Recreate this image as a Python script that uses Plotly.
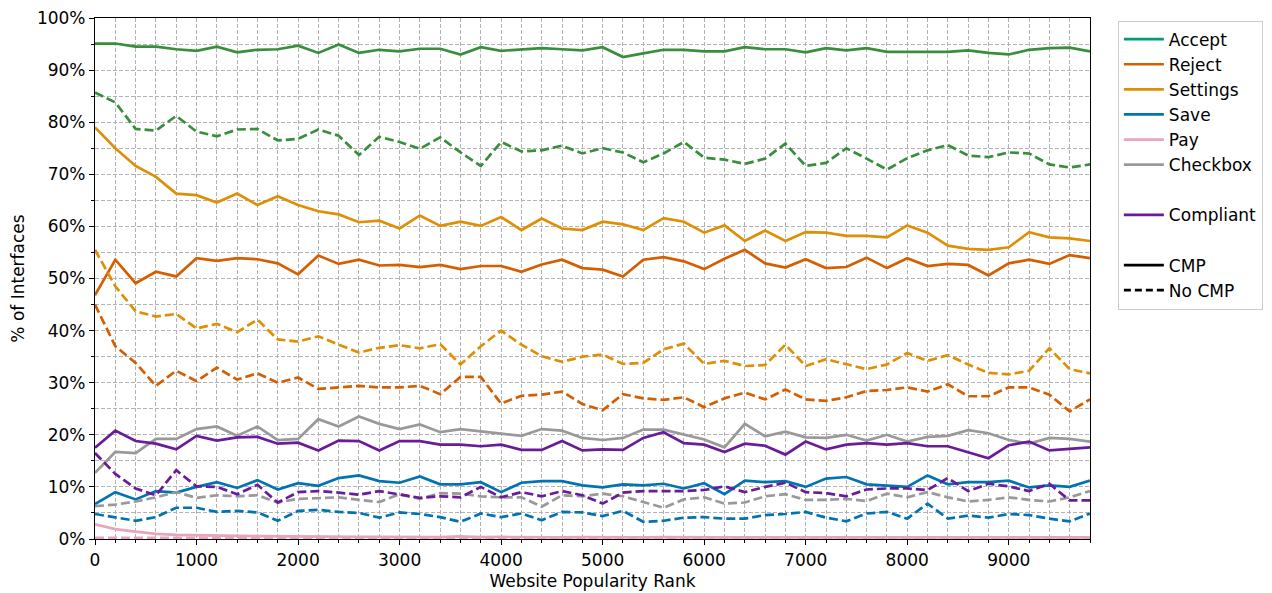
import plotly.graph_objects as go

ranks = [0, 200, 400, 600, 800, 1000, 1200, 1400, 1600, 1800,
         2000, 2200, 2400, 2600, 2800, 3000, 3200, 3400, 3600, 3800,
         4000, 4200, 4400, 4600, 4800, 5000, 5200, 5400, 5600, 5800,
         6000, 6200, 6400, 6600, 6800, 7000, 7200, 7400, 7600, 7800,
         8000, 8200, 8400, 8600, 8800, 9000, 9200, 9400, 9600, 9800]

accept_cmp = [95.1, 95.1, 94.5, 94.5, 94.0, 93.7, 94.5, 93.4, 93.9, 94.0,
              94.7, 93.3, 94.9, 93.3, 93.9, 93.6, 94.1, 94.1, 93.0, 94.4,
              93.7, 94.0, 94.2, 94.0, 93.8, 94.4, 92.5, 93.2, 93.9, 93.9,
              93.6, 93.6, 94.4, 94.0, 94.0, 93.4, 94.2, 93.8, 94.2, 93.5,
              93.5, 93.6, 93.5, 93.8, 93.3, 93.0, 93.9, 94.2, 94.3, 93.6]
accept_nocmp = [85.7, 83.8, 78.7, 78.4, 81.2, 78.2, 77.3, 78.6, 78.7, 76.5,
                76.8, 78.6, 77.4, 73.7, 77.2, 76.2, 74.9, 77.1, 74.2, 71.6,
                76.2, 74.4, 74.6, 75.5, 74.0, 75.0, 74.2, 72.3, 74.0, 76.2,
                73.2, 72.8, 72.0, 73.0, 75.9, 71.6, 72.2, 75.0, 73.0, 70.9,
                73.1, 74.6, 75.6, 73.6, 73.3, 74.2, 74.0, 71.9, 71.3, 71.9]
reject_cmp = [46.8, 53.6, 49.1, 51.3, 50.4, 53.9, 53.4, 53.9, 53.7, 52.9,
              50.8, 54.4, 52.8, 53.6, 52.5, 52.6, 52.2, 52.6, 51.8, 52.4,
              52.4, 51.3, 52.7, 53.6, 52.0, 51.7, 50.4, 53.6, 54.1, 53.3,
              51.8, 53.8, 55.5, 52.9, 52.1, 53.7, 52.0, 52.2, 54.0, 52.0,
              53.9, 52.4, 52.8, 52.6, 50.6, 52.9, 53.6, 52.8, 54.5, 53.9]
reject_nocmp = [45.0, 37.0, 33.8, 29.4, 32.3, 30.3, 32.9, 30.6, 31.8, 30.0,
                31.0, 28.8, 29.1, 29.4, 29.1, 29.1, 29.4, 27.8, 31.1, 31.1,
                26.0, 27.5, 27.7, 28.3, 25.9, 24.7, 27.8, 27.0, 26.7, 27.2,
                25.3, 27.0, 28.1, 26.8, 28.7, 26.8, 26.5, 27.2, 28.4, 28.6,
                29.1, 28.3, 29.7, 27.4, 27.4, 29.1, 29.1, 27.7, 24.5, 26.8]
settings_cmp = [79.0, 75.0, 71.6, 69.5, 66.3, 66.0, 64.6, 66.3, 64.1, 65.8,
                64.1, 62.9, 62.3, 60.8, 61.1, 59.6, 62.1, 60.1, 60.9, 60.1,
                61.8, 59.3, 61.5, 59.6, 59.3, 60.9, 60.4, 59.3, 61.6, 60.9,
                58.8, 60.2, 57.2, 59.2, 57.2, 58.9, 58.8, 58.2, 58.2, 57.9,
                60.2, 58.8, 56.3, 55.7, 55.5, 56.0, 58.9, 57.9, 57.7, 57.2]
settings_nocmp = [55.5, 48.5, 43.7, 42.7, 43.2, 40.4, 41.3, 39.7, 42.1, 38.3,
                  37.9, 38.9, 37.3, 35.8, 36.7, 37.2, 36.6, 37.4, 33.5, 37.0,
                  40.0, 37.3, 35.1, 34.0, 35.0, 35.4, 33.6, 33.8, 36.4, 37.5,
                  33.6, 34.2, 33.2, 33.4, 37.3, 33.2, 34.5, 33.5, 32.6, 33.5,
                  35.7, 34.2, 35.3, 33.5, 31.9, 31.6, 32.3, 36.6, 32.6, 31.8]
save_cmp = [6.7, 9.0, 7.6, 9.2, 8.9, 10.0, 10.9, 9.8, 11.3, 9.5,
            10.7, 10.2, 11.7, 12.2, 11.1, 10.8, 12.0, 10.5, 10.5, 10.9,
            9.0, 10.8, 11.1, 11.1, 10.3, 9.9, 10.5, 10.3, 10.6, 9.7,
            10.7, 8.6, 11.2, 10.9, 11.1, 10.0, 11.6, 11.9, 10.5, 10.2,
            10.0, 12.2, 10.5, 10.9, 10.9, 11.2, 9.9, 10.3, 10.0, 11.2]
save_nocmp = [4.8, 4.1, 3.5, 4.2, 6.0, 6.0, 5.2, 5.4, 5.1, 3.5,
              5.4, 5.6, 5.2, 5.0, 4.1, 5.1, 4.8, 4.2, 3.3, 4.9,
              4.2, 4.9, 3.6, 5.2, 5.1, 4.4, 5.4, 3.3, 3.5, 4.1,
              4.2, 3.9, 3.9, 4.6, 4.8, 5.2, 4.1, 3.4, 4.9, 5.2,
              3.9, 6.8, 3.9, 4.5, 4.1, 4.8, 4.6, 3.9, 3.4, 4.9]
pay_cmp = [2.8, 1.9, 1.4, 1.0, 0.8, 0.7, 0.65, 0.6, 0.55, 0.5,
           0.5, 0.45, 0.45, 0.4, 0.4, 0.4, 0.4, 0.35, 0.5, 0.35,
           0.4, 0.35, 0.35, 0.3, 0.35, 0.3, 0.3, 0.3, 0.35, 0.3,
           0.3, 0.3, 0.3, 0.3, 0.3, 0.3, 0.3, 0.3, 0.3, 0.3,
           0.3, 0.3, 0.3, 0.3, 0.3, 0.3, 0.3, 0.3, 0.3, 0.3]
pay_nocmp = [0.2, 0.2, 0.2, 0.2, 0.2, 0.2, 0.2, 0.2, 0.2, 0.2,
             0.2, 0.2, 0.2, 0.2, 0.2, 0.2, 0.2, 0.2, 0.2, 0.2,
             0.2, 0.2, 0.2, 0.2, 0.2, 0.2, 0.2, 0.2, 0.2, 0.2,
             0.2, 0.2, 0.2, 0.2, 0.2, 0.2, 0.2, 0.2, 0.2, 0.2,
             0.2, 0.2, 0.2, 0.2, 0.2, 0.2, 0.2, 0.2, 0.2, 0.2]
checkbox_cmp = [12.7, 16.7, 16.5, 19.2, 19.2, 21.1, 21.6, 19.8, 21.6, 19.0,
                19.2, 23.0, 21.6, 23.5, 22.1, 21.1, 22.0, 20.5, 21.1, 20.7,
                20.2, 19.8, 21.1, 20.8, 19.4, 19.0, 19.4, 21.0, 21.0, 20.0,
                19.1, 17.6, 22.1, 19.7, 20.6, 19.5, 19.4, 20.0, 18.9, 20.0,
                18.7, 19.6, 19.8, 20.9, 20.3, 19.0, 18.3, 19.4, 19.2, 18.7]
checkbox_nocmp = [6.3, 6.6, 7.2, 8.0, 9.0, 7.9, 8.4, 8.2, 8.4, 7.0,
                  7.7, 7.9, 8.0, 7.5, 7.1, 8.6, 7.7, 8.8, 8.7, 8.2,
                  8.0, 8.0, 6.2, 8.4, 8.2, 8.7, 8.2, 7.1, 6.0, 7.6,
                  8.0, 6.8, 7.0, 8.2, 8.6, 7.5, 7.5, 7.7, 7.3, 8.7,
                  8.0, 9.0, 8.0, 7.2, 7.5, 8.0, 7.5, 7.2, 8.0, 9.2]
compliant_cmp = [17.5, 20.8, 18.8, 18.3, 17.2, 19.8, 18.9, 19.5, 19.6, 18.3,
                 18.5, 17.0, 18.9, 18.8, 17.0, 18.8, 18.8, 18.1, 18.1, 17.8,
                 18.1, 17.1, 17.1, 18.8, 17.0, 17.2, 17.1, 19.4, 20.5, 18.4,
                 18.1, 16.7, 18.3, 17.9, 16.2, 18.7, 17.2, 18.1, 18.4, 18.1,
                 18.4, 17.8, 17.8, 16.7, 15.5, 18.0, 18.7, 17.0, 17.3, 17.6]
compliant_nocmp = [16.5, 12.5, 9.7, 8.4, 13.2, 10.1, 10.0, 8.6, 10.4, 7.0,
                   9.0, 9.2, 8.9, 8.5, 9.2, 8.6, 7.9, 8.2, 8.0, 10.0,
                   8.0, 9.0, 8.2, 9.2, 8.4, 6.8, 8.9, 9.2, 9.2, 9.2,
                   9.4, 10.1, 9.0, 10.0, 10.8, 9.0, 8.8, 8.2, 9.5, 9.7,
                   9.7, 9.4, 11.7, 9.2, 10.6, 10.1, 9.2, 10.6, 7.4, 7.4]

categories = ["Accept", "Reject", "Settings", "Save", "Pay", "Checkbox", "Compliant"]
line_colors = {"Accept": "#388e3c", "Reject": "#d55e00", "Settings": "#de8f05",
               "Save": "#0173b2", "Pay": "#e8a5b9", "Checkbox": "#999999",
               "Compliant": "#6a1b9a"}
legend_colors = {"Accept": "#029e73", "Reject": "#d55e00", "Settings": "#de8f05",
                 "Save": "#0173b2", "Pay": "#e8a5b9", "Checkbox": "#999999",
                 "Compliant": "#6a1b9a"}
series = {
    "Accept": (accept_cmp, accept_nocmp),
    "Reject": (reject_cmp, reject_nocmp),
    "Settings": (settings_cmp, settings_nocmp),
    "Save": (save_cmp, save_nocmp),
    "Pay": (pay_cmp, pay_nocmp),
    "Checkbox": (checkbox_cmp, checkbox_nocmp),
    "Compliant": (compliant_cmp, compliant_nocmp),
}

LW = 2.7
DASH = "9px,4px"
FS = 17
fig = go.Figure()

for cat in categories:
    cmp_vals, nocmp_vals = series[cat]
    fig.add_trace(go.Scatter(x=ranks, y=cmp_vals, mode="lines", showlegend=False,
                             line=dict(color=line_colors[cat], width=LW), hoverinfo="skip"))
    fig.add_trace(go.Scatter(x=ranks, y=nocmp_vals, mode="lines", showlegend=False,
                             line=dict(color=line_colors[cat], width=LW, dash=DASH),
                             hoverinfo="skip"))

entry_idx = [0]
def legend_entry(name, color, dash="solid", visible_line=True):
    entry_idx[0] += 1
    fig.add_trace(go.Scatter(x=[None], y=[None], mode="lines", name=name,
                             legendgroup="g%d" % entry_idx[0],
                             line=dict(color=color if visible_line else "rgba(0,0,0,0)",
                                       width=LW, dash=dash)))

for cat in ["Accept", "Reject", "Settings", "Save", "Pay", "Checkbox"]:
    legend_entry(cat, legend_colors[cat])
legend_entry(" ", "white", visible_line=False)
legend_entry("Compliant", legend_colors["Compliant"])
legend_entry("  ", "white", visible_line=False)
legend_entry("CMP", "black")
legend_entry("No CMP", "black", dash="7px,4px")

grid = dict(gridcolor="#b3b3b3", gridwidth=1, griddash="4px,2px")
axis_common = dict(showline=True, linecolor="black", linewidth=1.2, mirror=True,
                   ticks="outside", ticklen=5, tickwidth=1, tickcolor="black",
                   tickfont=dict(size=FS, color="black"), zeroline=False,
                   automargin=False, showgrid=True, ticklabeloverflow="allow", **grid)

fig.update_xaxes(range=[0, 9800], tick0=0, dtick=1000, tickformat="d",
                 title=dict(text="Website Popularity Rank", font=dict(size=FS, color="black"),
                            standoff=6),
                 minor=dict(dtick=200, tick0=0, ticks="outside", ticklen=3, tickcolor="black",
                            showgrid=True, **grid),
                 **axis_common)
fig.update_yaxes(range=[0, 100], tick0=0, dtick=10, ticksuffix="%",
                 title=dict(text="% of Interfaces", font=dict(size=FS, color="black"),
                            standoff=19),
                 minor=dict(dtick=5, tick0=0, ticks="outside", ticklen=3, tickcolor="black",
                            showgrid=True, **grid),
                 **axis_common)

fig.update_layout(
    width=1272, height=593,
    margin=dict(l=87, r=190, t=10, b=62, autoexpand=False),
    plot_bgcolor="white", paper_bgcolor="white",
    font=dict(family="DejaVu Sans", size=FS, color="black"),
    legend=dict(x=1.028, y=0.995, xanchor="left", yanchor="top",
                bgcolor="white", bordercolor="#cccccc", borderwidth=1,
                font=dict(size=FS), itemwidth=40, tracegroupgap=0),
)

fig.write_html("out.html")
